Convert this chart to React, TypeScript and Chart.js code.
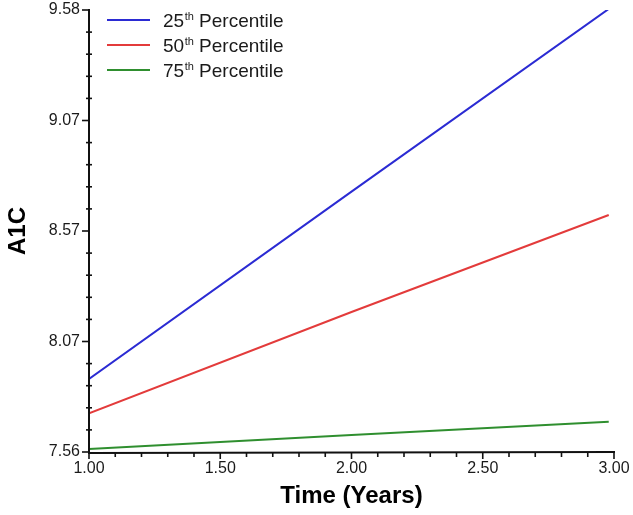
import React, { useEffect, useRef } from "react";
import { Chart, registerables } from "chart.js";

Chart.register(...registerables);

// ---- data ----
const timeYears = [1.0, 2.0, 2.98];
const p25Values = [7.894, 8.75, 9.585];
const p50Values = [7.737, 8.2, 8.643];
const p75Values = [7.574, 7.638, 7.698];
const seriesNames = ["25", "50", "75"];
const seriesSuffix = "th";
const seriesWord = " Percentile";
const yTickValues = [7.56, 8.065, 8.57, 9.075, 9.58];
const yTickLabels = ["7.56", "8.07", "8.57", "9.07", "9.58"];
const xTickValues = [1.0, 1.5, 2.0, 2.5, 3.0];
const xTickLabels = ["1.00", "1.50", "2.00", "2.50", "3.00"];
const xTitle = "Time (Years)";
const yTitle = "A1C";

const FONT = "'Liberation Sans', Arial, Helvetica, sans-serif";
const COLORS = ["#2b2bd3", "#e33b3b", "#2f8f2f"];
const TEXT = "#1a1a1a";

const axesPlugin = {
  id: "customAxes",
  afterDraw(chart: any) {
    const { ctx, chartArea, scales } = chart;
    const xs = scales.x;
    const ys = scales.y;
    const left = chartArea.left;
    const bottom = chartArea.bottom;
    ctx.save();
    ctx.strokeStyle = "#111";
    ctx.lineCap = "butt";
    ctx.lineWidth = 2;
    ctx.beginPath();
    ctx.moveTo(left, ys.getPixelForValue(yTickValues[yTickValues.length - 1]) - 1);
    ctx.lineTo(left, bottom + 1);
    ctx.lineTo(xs.getPixelForValue(xTickValues[xTickValues.length - 1]) + 1, bottom);
    ctx.stroke();
    ctx.lineWidth = 1.6;
    for (let i = 0; i < yTickValues.length; i++) {
      const py = ys.getPixelForValue(yTickValues[i]);
      ctx.beginPath();
      ctx.moveTo(left - 7, py);
      ctx.lineTo(left, py);
      ctx.stroke();
      if (i < yTickValues.length - 1) {
        const step = (yTickValues[i + 1] - yTickValues[i]) / 5;
        for (let k = 1; k < 5; k++) {
          const my = ys.getPixelForValue(yTickValues[i] + step * k);
          ctx.beginPath();
          ctx.moveTo(left - 3, my);
          ctx.lineTo(left + 3, my);
          ctx.stroke();
        }
      }
    }
    for (let i = 0; i < xTickValues.length; i++) {
      const px = xs.getPixelForValue(xTickValues[i]);
      ctx.beginPath();
      ctx.moveTo(px, bottom);
      ctx.lineTo(px, bottom + 7);
      ctx.stroke();
      if (i < xTickValues.length - 1) {
        const step = (xTickValues[i + 1] - xTickValues[i]) / 5;
        for (let k = 1; k < 5; k++) {
          const mx = xs.getPixelForValue(xTickValues[i] + step * k);
          ctx.beginPath();
          ctx.moveTo(mx, bottom);
          ctx.lineTo(mx, bottom + 5);
          ctx.stroke();
        }
      }
    }
    ctx.restore();
  },
};

const legendPlugin = {
  id: "supLegend",
  afterDraw(chart: any) {
    const { ctx, chartArea } = chart;
    const x0 = chartArea.left + 18;
    const y0 = chartArea.top + 10;
    const rowH = 25;
    ctx.save();
    seriesNames.forEach((name, i) => {
      const y = y0 + i * rowH;
      ctx.strokeStyle = COLORS[i];
      ctx.lineWidth = 2;
      ctx.beginPath();
      ctx.moveTo(x0, y);
      ctx.lineTo(x0 + 43, y);
      ctx.stroke();
      ctx.fillStyle = TEXT;
      ctx.textBaseline = "alphabetic";
      ctx.textAlign = "left";
      let tx = x0 + 56;
      const base = y + 7;
      ctx.font = `19px ${FONT}`;
      ctx.fillText(name, tx, base);
      tx += ctx.measureText(name).width;
      ctx.font = `11px ${FONT}`;
      ctx.fillText(seriesSuffix, tx + 0.5, base - 7);
      tx += ctx.measureText(seriesSuffix).width + 0.5;
      ctx.font = `19px ${FONT}`;
      ctx.fillText(seriesWord, tx, base);
    });
    ctx.restore();
  },
};

export default function App() {
  const canvasRef = useRef<HTMLCanvasElement | null>(null);

  useEffect(() => {
    document.body.style.margin = "0";
    const canvas = canvasRef.current;
    if (!canvas) return;
    const mk = (vals: number[]) => timeYears.map((t, i) => ({ x: t, y: vals[i] }));
    const chart = new Chart(canvas, {
      type: "line",
      data: {
        datasets: [p25Values, p50Values, p75Values].map((vals, i) => ({
          label: seriesNames[i] + seriesSuffix + seriesWord,
          data: mk(vals),
          borderColor: COLORS[i],
          backgroundColor: COLORS[i],
          borderWidth: 2,
          pointRadius: 0,
          tension: 0,
          fill: false,
        })),
      },
      options: {
        animation: false,
        responsive: true,
        maintainAspectRatio: false,
        layout: { padding: { top: 10, right: 19, left: 0, bottom: 0 } },
        plugins: {
          legend: { display: false },
          tooltip: { enabled: false },
        },
        scales: {
          x: {
            type: "linear",
            min: 1,
            max: 3,
            grid: { display: false, drawTicks: false },
            border: { display: false },
            afterBuildTicks: (scale: any) => {
              scale.ticks = xTickValues.map((v) => ({ value: v }));
            },
            afterFit: (scale: any) => {
              scale.height = 63;
              scale.paddingLeft = 0;
              scale.paddingRight = 0;
            },
            ticks: {
              padding: 7,
              color: TEXT,
              font: { family: FONT, size: 16 },
              maxRotation: 0,
              autoSkip: false,
              callback: (_v: any, idx: number) => xTickLabels[idx],
            },
            title: {
              display: true,
              text: xTitle,
              color: "#000",
              font: { family: FONT, size: 24, weight: "bold" },
              padding: { top: 0, bottom: 4 },
            },
          },
          y: {
            type: "linear",
            min: 7.56,
            max: 9.58,
            grid: { display: false, drawTicks: false },
            border: { display: false },
            afterBuildTicks: (scale: any) => {
              scale.ticks = yTickValues.map((v) => ({ value: v }));
            },
            afterFit: (scale: any) => {
              scale.width = 89;
              scale.paddingTop = 0;
              scale.paddingBottom = 0;
            },
            ticks: {
              padding: 9,
              color: TEXT,
              font: { family: FONT, size: 16 },
              autoSkip: false,
              callback: (_v: any, idx: number) => yTickLabels[idx],
            },
            title: {
              display: true,
              text: yTitle,
              color: "#000",
              font: { family: FONT, size: 24, weight: "bold" },
              padding: { top: 4, bottom: 0 },
            },
          },
        },
      },
      plugins: [axesPlugin, legendPlugin],
    } as any);
    return () => chart.destroy();
  }, []);

  return (
    <div style={{ width: 633, height: 515, position: "relative", background: "#fff" }}>
      <canvas ref={canvasRef} />
    </div>
  );
}
